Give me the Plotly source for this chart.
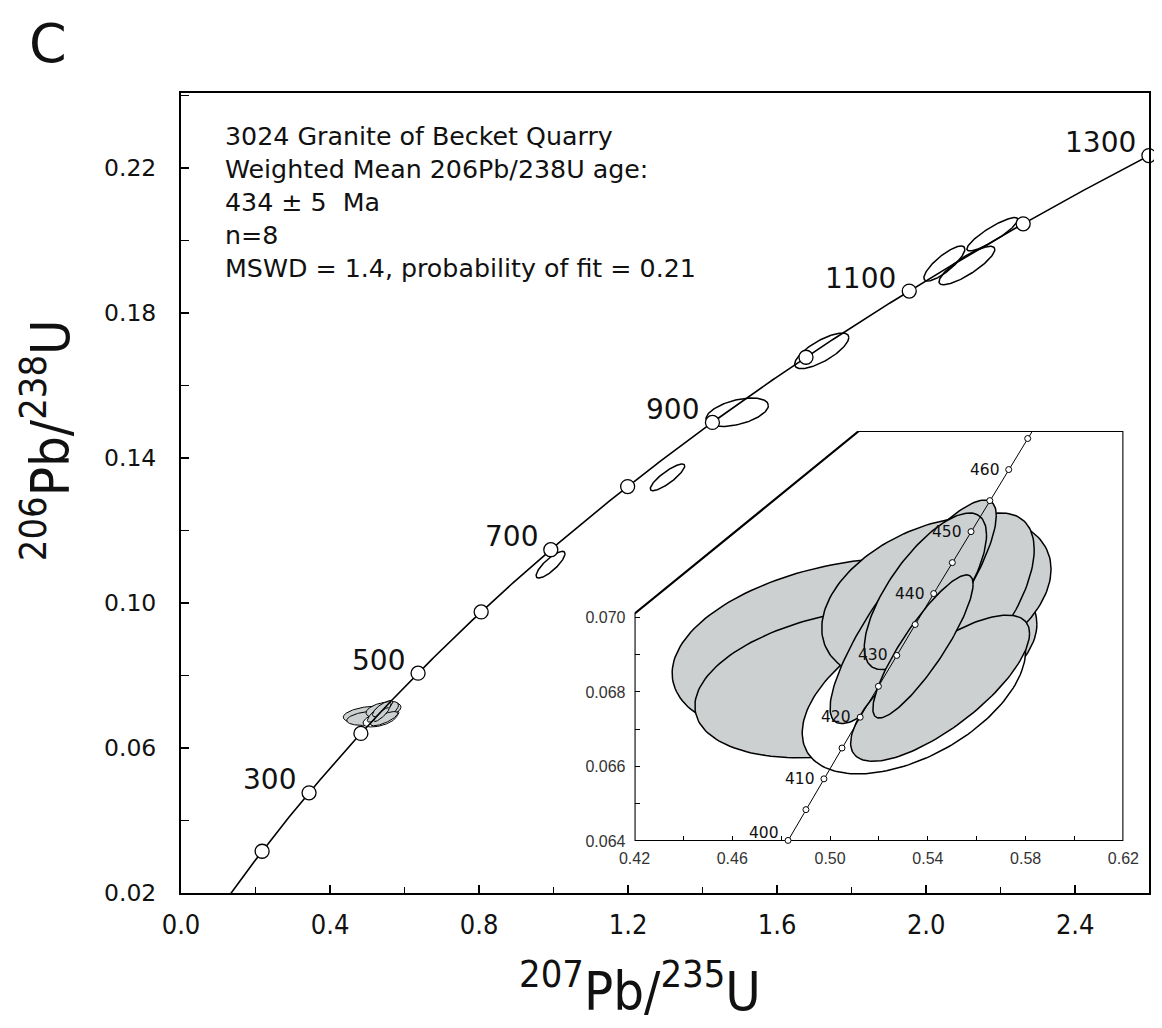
import numpy as np
import plotly.graph_objects as go

# ---------------- data ----------------
# decay constants (1/Ma) used for the concordia reference curve
LAMBDA_238 = 1.55125e-4
LAMBDA_235 = 9.8485e-4

main_marker_ages = [200, 300, 400, 500, 600, 700, 800, 900, 1000, 1100, 1200, 1300]
main_label_ages = [300, 500, 700, 900, 1100, 1300]
inset_marker_ages = [400, 405, 410, 415, 420, 425, 430, 435, 440, 445, 450, 455, 460, 465]
inset_label_ages = [400, 410, 420, 430, 440, 450, 460]

# old (inherited) analyses, unfilled ellipses on main plot
old_x207 = [0.9918, 1.3057, 1.4927, 1.7197, 2.0488, 2.1093, 2.1775]
old_sx = [0.0388, 0.0462, 0.0837, 0.0727, 0.0550, 0.0749, 0.0682]
old_y206 = [0.11057, 0.13467, 0.15263, 0.16957, 0.19366, 0.19310, 0.20174]
old_sy = [0.00368, 0.00368, 0.00392, 0.00491, 0.00483, 0.00530, 0.00460]
old_rho = [0.82, 0.85, 0.47, 0.75, 0.82, 0.84, 0.88]

# young cluster analyses (drawing order back -> front), used = grey, rejected = white
cl_x207 = [0.5100, 0.5070, 0.5343, 0.5435, 0.5450, 0.5340, 0.5450, 0.5390, 0.5380]
cl_sx = [0.0746, 0.0623, 0.0457, 0.0469, 0.0385, 0.0340, 0.0366, 0.0250, 0.0205]
cl_y206 = [0.06916, 0.06824, 0.06800, 0.07050, 0.07000, 0.07015, 0.06810, 0.07070, 0.06922]
cl_sy = [0.00244, 0.00201, 0.00220, 0.00220, 0.00280, 0.00300, 0.00196, 0.00210, 0.00192]
cl_rho = [0.27, 0.31, 0.50, 0.36, 0.65, 0.86, 0.75, 0.72, 0.87]
cl_used = [True, True, False, True, True, True, True, True, True]

x_ticks_main = [0.0, 0.4, 0.8, 1.2, 1.6, 2.0, 2.4]
y_ticks_main = [0.02, 0.06, 0.10, 0.14, 0.18, 0.22]
x_ticks_inset = [0.42, 0.46, 0.50, 0.54, 0.58, 0.62]
y_ticks_inset = [0.064, 0.066, 0.068, 0.070]

info_lines = ["3024 Granite of Becket Quarry",
              "Weighted Mean 206Pb/238U age:",
              "434 ± 5  Ma",
              "n=8",
              "MSWD = 1.4, probability of fit = 0.21"]

# ---------------- helpers ----------------
def conc(t):
    t = np.asarray(t, dtype=float)
    return np.exp(LAMBDA_235 * t) - 1.0, np.exp(LAMBDA_238 * t) - 1.0

def ellipse(xc, sx, yc, sy, rho, n=160):
    a = np.linspace(0, 2 * np.pi, n)
    x = xc + sx * np.cos(a)
    y = yc + sy * (rho * np.cos(a) + np.sqrt(1 - rho ** 2) * np.sin(a))
    return x, y

W, H = 1162, 1028
L, R, T, B = 173, 5, 85, 143
PW, PH = W - L - R, H - T - B

def px(xp):
    return (xp - L) / PW

def py(yp):
    return (H - B - yp) / PH

GREY = "#cdd0d1"
TXT = "#111111"
FONT = "DejaVu Sans"
COND = "DejaVu Sans Condensed, Liberation Sans Narrow, Liberation Sans, sans-serif"

fig = go.Figure()

# ---------------- main plot ----------------
for i in range(len(old_x207)):
    ex, ey = ellipse(old_x207[i], old_sx[i], old_y206[i], old_sy[i], old_rho[i])
    fig.add_trace(go.Scatter(x=ex, y=ey, mode="lines", line=dict(color="black", width=1.5),
                             hoverinfo="skip", showlegend=False))
for i in range(len(cl_x207)):
    ex, ey = ellipse(cl_x207[i], cl_sx[i], cl_y206[i], cl_sy[i], cl_rho[i])
    fig.add_trace(go.Scatter(x=ex, y=ey, mode="lines", fill="toself",
                             fillcolor=GREY if cl_used[i] else "white",
                             line=dict(color="black", width=1.0),
                             hoverinfo="skip", showlegend=False))

tc = np.linspace(100, 1420, 600)
cx, cy = conc(tc)
fig.add_trace(go.Scatter(x=cx, y=cy, mode="lines", line=dict(color="black", width=1.6),
                         hoverinfo="skip", showlegend=False))
mx, my = conc(main_marker_ages)
fig.add_trace(go.Scatter(x=mx, y=my, mode="markers",
                         marker=dict(size=14, color="white", line=dict(color="black", width=1.3)),
                         hoverinfo="skip", showlegend=False, cliponaxis=False))

annotations = []
lx, ly = conc(main_label_ages)
for age, xx, yy in zip(main_label_ages, lx, ly):
    annotations.append(dict(x=xx, y=yy, xref="x", yref="y", text=str(age), showarrow=False,
                            xanchor="right", yanchor="middle", xshift=-11, yshift=13,
                            font=dict(family=FONT, size=28, color=TXT)))

# ---------------- inset ----------------
for i in range(len(cl_x207)):
    ex, ey = ellipse(cl_x207[i], cl_sx[i], cl_y206[i], cl_sy[i], cl_rho[i])
    fig.add_trace(go.Scatter(x=ex, y=ey, mode="lines", fill="toself",
                             fillcolor=GREY if cl_used[i] else "white",
                             line=dict(color="black", width=1.5),
                             hoverinfo="skip", showlegend=False, xaxis="x2", yaxis="y2"))
ti = np.linspace(396, 470, 300)
ix, iy = conc(ti)
fig.add_trace(go.Scatter(x=ix, y=iy, mode="lines", line=dict(color="black", width=1.0),
                         hoverinfo="skip", showlegend=False, xaxis="x2", yaxis="y2"))
imx, imy = conc(inset_marker_ages)
fig.add_trace(go.Scatter(x=imx, y=imy, mode="markers",
                         marker=dict(size=6, color="white", line=dict(color="black", width=1)),
                         hoverinfo="skip", showlegend=False, xaxis="x2", yaxis="y2",
                         cliponaxis=False))
ilx, ily = conc(inset_label_ages)
for age, xx, yy in zip(inset_label_ages, ilx, ily):
    annotations.append(dict(x=xx, y=yy, xref="x2", yref="y2", text=str(age), showarrow=False,
                            xanchor="right", yanchor="middle", xshift=-7,
                            yshift=7 if age == 400 else 0,
                            font=dict(family=FONT, size=15.5, color=TXT)))

xmin2, xmax2 = x_ticks_inset[0], x_ticks_inset[-1]
ymin2, ymax2 = y_ticks_inset[0], 0.075
frame_path = (f"M{xmin2},{ymin2} L{xmin2},0.0701 L0.5118,{ymax2} "
              f"L{xmax2},{ymax2} L{xmax2},{ymin2} Z")
shapes = [dict(type="path", path=frame_path, xref="x2", yref="y2",
               fillcolor="white", line=dict(color="black", width=2.2), layer="below")]

# ---------------- text ----------------
annotations.append(dict(x=px(216), y=py(112), xref="paper", yref="paper",
                        text="<br>".join(info_lines), showarrow=False, align="left",
                        xanchor="left", yanchor="top",
                        font=dict(family=FONT, size=25.3, color=TXT)))
annotations.append(dict(x=px(38), y=py(36), xref="paper", yref="paper", text="C",
                        showarrow=False, xanchor="center", yanchor="middle",
                        font=dict(family=FONT, size=54, color=TXT)))
annotations.append(dict(x=px(640), y=py(980), xref="paper", yref="paper",
                        text="<sup>207</sup>Pb/<sup>235</sup>U", showarrow=False,
                        xanchor="center", yanchor="middle",
                        font=dict(family=COND, size=54, color=TXT)))
annotations.append(dict(x=px(36), y=py(432), xref="paper", yref="paper",
                        text="<sup>206</sup>Pb/<sup>238</sup>U", showarrow=False,
                        textangle=-90, xanchor="center", yanchor="middle",
                        font=dict(family=COND, size=54, color=TXT)))

fig.update_layout(
    width=W, height=H, margin=dict(l=L, r=R, t=T, b=B),
    paper_bgcolor="white", plot_bgcolor="rgba(0,0,0,0)",
    showlegend=False, annotations=annotations, shapes=shapes,
    xaxis=dict(range=[0, 2.598], showgrid=False, zeroline=False, showline=True,
               linecolor="black", linewidth=2, mirror=True,
               ticks="inside", ticklen=8, tickwidth=1.5, tickcolor="black",
               tickvals=x_ticks_main, ticktext=[f"{v:.1f}" for v in x_ticks_main],
               minor=dict(tickvals=[v + 0.2 for v in x_ticks_main], ticks="inside",
                          ticklen=6, tickwidth=1.3, tickcolor="black"),
               ticklabelstandoff=7,
               tickfont=dict(family=COND, size=27, color=TXT)),
    yaxis=dict(range=[0.02, 0.2407], showgrid=False, zeroline=False, showline=True,
               linecolor="black", linewidth=2, mirror=True,
               ticks="inside", ticklen=8, tickwidth=1.5, tickcolor="black",
               tickvals=y_ticks_main, ticktext=[f"{v:.2f}" for v in y_ticks_main],
               minor=dict(tickvals=[v + 0.02 for v in y_ticks_main], ticks="inside",
                          ticklen=8, tickwidth=1.3, tickcolor="black"),
               ticklabelstandoff=18,
               tickfont=dict(family=FONT, size=23.5, color=TXT)),
    xaxis2=dict(domain=[px(634), px(1131)], anchor="y2", range=[xmin2, xmax2],
                showgrid=False, zeroline=False, showline=False,
                ticks="inside", ticklen=5, tickwidth=1.2, tickcolor="black",
                tickvals=x_ticks_inset, ticktext=[f"{v:.2f}" for v in x_ticks_inset],
                minor=dict(tickvals=[v + 0.02 for v in x_ticks_inset[:-1]], ticks="inside",
                           ticklen=5, tickwidth=1.2, tickcolor="black"),
                ticklabelstandoff=6,
                tickfont=dict(family="Liberation Sans", size=16, color="#333")),
    yaxis2=dict(domain=[py(833), py(423)], anchor="x2", range=[ymin2, ymax2],
                showgrid=False, zeroline=False, showline=False,
                ticks="inside", ticklen=5, tickwidth=1.2, tickcolor="black",
                tickvals=y_ticks_inset, ticktext=[f"{v:.3f}" for v in y_ticks_inset],
                minor=dict(tickvals=[v + 0.001 for v in y_ticks_inset[:-1]], ticks="inside",
                           ticklen=5, tickwidth=1.2, tickcolor="black"),
                ticklabelstandoff=8,
                tickfont=dict(family="Liberation Sans", size=16, color="#333")),
)

fig.write_html("out.html")
